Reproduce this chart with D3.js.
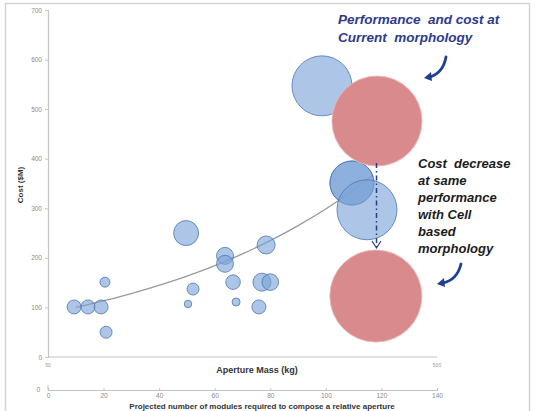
<!DOCTYPE html>
<html>
<head>
<meta charset="utf-8">
<script src="https://cdn.jsdelivr.net/npm/d3@7"></script>
<style>
  html, body { margin: 0; padding: 0; background: #fff; }
  svg { display: block; }
  text { font-family: "Liberation Sans", Arial, sans-serif; }
</style>
</head>
<body>
<script>
// ---- data ----
const bubbleX    = [9.4, 14.4, 19.1, 20.5, 20.9, 49.7, 52.2, 50.4, 63.7, 63.7, 66.6, 67.7, 78.5, 75.9, 77.0, 80.0, 98.6, 109.4, 109.4, 114.8];
const bubbleY    = [101, 101, 101, 151, 50, 250, 137, 107, 204, 188, 151, 111, 226, 101, 151, 151, 547, 351, 351, 297];
const bubbleSize = [49, 49, 49, 25, 36, 156, 36, 14, 72, 72, 53, 16, 81, 49, 81, 69, 900, 484, 484, 900];

const morphCategories = ["Current morphology", "Cell based morphology"];
const morphX    = [118.4, 118.0];
const morphY    = [476, 123];
const morphSize = [2025, 2116];

const trendX = [10, 30, 50, 70, 90, 110, 117];
const trendY = [100, 128, 163, 208, 265, 337, 367];

const yTicks  = [0, 100, 200, 300, 400, 500, 600, 700];
const x2Ticks = [0, 20, 40, 60, 80, 100, 120, 140];
const topAxisLabels = ["50", "500"];

const annotation1 = ["Performance  and cost at", "Current  morphology"];
const annotation2 = ["Cost  decrease", "at same", "performance", "with Cell", "based", "morphology"];

// ---- drawing ----
const W = 536, H = 411;
const svg = d3.select("body").append("svg").attr("width", W).attr("height", H);

svg.append("rect").attr("x", 5.5).attr("y", 3.5).attr("width", 524).attr("height", 430)
  .attr("fill", "#fff").attr("stroke", "#d4d4d4").attr("stroke-width", 1.5);

const x = d3.scaleLinear().domain([0, 140]).range([48, 437]);
const y = d3.scaleLinear().domain([0, 700]).range([357, 10]);
const r = d3.scaleSqrt().domain([0, 2500]).range([0, 50]);

// Y axis
const yAxis = d3.axisLeft(y).tickValues(yTicks).tickSize(3).tickPadding(3);
const gy = svg.append("g").attr("transform", `translate(${x(0)},0)`).call(yAxis);
gy.select(".domain").attr("stroke", "#c4c4c4").attr("stroke-width", 1.2);
gy.selectAll(".tick line").attr("stroke", "#c4c4c4");
gy.selectAll(".tick text").attr("fill", "#8a8a8a").attr("font-size", 6.5);

// Upper x axis (no ticks)
svg.append("line").attr("x1", x(0)).attr("x2", x(140)).attr("y1", y(0)).attr("y2", y(0))
  .attr("stroke", "#c4c4c4").attr("stroke-width", 1.2);
svg.append("text").attr("x", x(0)).attr("y", 367).attr("font-size", 5).attr("fill", "#999")
  .attr("text-anchor", "middle").text(topAxisLabels[0]);
svg.append("text").attr("x", x(140)).attr("y", 367).attr("font-size", 5).attr("fill", "#999")
  .attr("text-anchor", "middle").text(topAxisLabels[1]);
svg.append("text").attr("x", 257).attr("y", 373).attr("font-size", 9).attr("font-weight", "bold")
  .attr("fill", "#333").attr("text-anchor", "middle").text("Aperture Mass (kg)");

// Lower secondary x axis
const gx2 = svg.append("g").attr("transform", "translate(0,390)")
  .call(d3.axisBottom(x).tickValues(x2Ticks).tickSize(-2).tickPadding(3));
gx2.select(".domain").attr("stroke", "#c4c4c4").attr("stroke-width", 1.2);
gx2.selectAll(".tick line").attr("stroke", "#c4c4c4");
gx2.selectAll(".tick text").attr("fill", "#8a8a8a").attr("font-size", 6.5);
svg.append("line").attr("x1", x(0)).attr("x2", x(0)).attr("y1", 385).attr("y2", 390).attr("stroke", "#c4c4c4");
svg.append("text").attr("x", 40).attr("y", 392).attr("font-size", 6.5).attr("fill", "#8a8a8a")
  .attr("text-anchor", "end").text("0");
svg.append("text").attr("x", 262).attr("y", 409).attr("font-size", 8).attr("font-weight", "bold")
  .attr("fill", "#333").attr("text-anchor", "middle")
  .text("Projected number of modules required to compose a relative aperture");

// Y title
svg.append("text").attr("transform", "translate(23,185) rotate(-90)")
  .attr("font-size", 8).attr("font-weight", "bold").attr("fill", "#333")
  .attr("text-anchor", "middle").text("Cost ($M)");

// Trend line
const trend = d3.line().x((d, i) => x(trendX[i])).y((d, i) => y(trendY[i])).curve(d3.curveMonotoneX);
svg.append("path").datum(trendX).attr("d", trend).attr("fill", "none")
  .attr("stroke", "#9a9a9a").attr("stroke-width", 1.3);

// Blue bubbles
svg.append("g").selectAll("circle").data(bubbleX).join("circle")
  .attr("cx", (d, i) => x(bubbleX[i]))
  .attr("cy", (d, i) => y(bubbleY[i]))
  .attr("r", (d, i) => r(bubbleSize[i]))
  .attr("fill", "#7aa3d8").attr("fill-opacity", 0.62)
  .attr("stroke", "#4d76b0").attr("stroke-opacity", 0.8).attr("stroke-width", 1);

// Pink bubbles
svg.append("g").selectAll("circle").data(morphCategories).join("circle")
  .attr("cx", (d, i) => x(morphX[i]))
  .attr("cy", (d, i) => y(morphY[i]))
  .attr("r", (d, i) => r(morphSize[i]))
  .attr("fill", "#d98a8c").attr("stroke", "#ebb7b8").attr("stroke-width", 1);

// Dashed arrow between the two morphologies
const ax = 376.5;
svg.append("line").attr("x1", ax).attr("x2", ax).attr("y1", 163).attr("y2", 247)
  .attr("stroke", "#24407a").attr("stroke-width", 1.5).attr("stroke-dasharray", "5,3,1.5,3");
svg.append("path").attr("d", `M${ax - 4.5},241 L${ax},248 L${ax + 4.5},241`)
  .attr("fill", "none").attr("stroke", "#24407a").attr("stroke-width", 1.2);

// Annotations
const t1 = svg.append("text").attr("font-size", 13.5).attr("font-weight", "bold").attr("font-style", "italic")
  .attr("fill", "#2e3a8c");
annotation1.forEach((s, i) => t1.append("tspan").attr("x", 338).attr("y", 24 + i * 17.5).attr("xml:space", "preserve").text(s));

const t2 = svg.append("text").attr("font-size", 13).attr("font-weight", "bold").attr("font-style", "italic")
  .attr("fill", "#1c1c1c");
annotation2.forEach((s, i) => t2.append("tspan").attr("x", 418).attr("y", 168 + i * 17).attr("xml:space", "preserve").text(s));

// Curved arrows
function curvedArrow(x0, y0, cx, cy, x1, y1) {
  svg.append("path").attr("d", `M${x0},${y0} Q${cx},${cy} ${x1},${y1}`)
    .attr("fill", "none").attr("stroke", "#1f3f93").attr("stroke-width", 2.8).attr("stroke-linecap", "round");
  svg.append("path").attr("d", `M${x1 + 1},${y1 - 5} L${x1 - 6},${y1 + 1} L${x1 + 2},${y1 + 4} Z`)
    .attr("fill", "#1f3f93");
}
curvedArrow(446, 57, 443, 73, 430, 77);
curvedArrow(461, 264, 457, 280, 443, 283);
</script>
</body>
</html>
